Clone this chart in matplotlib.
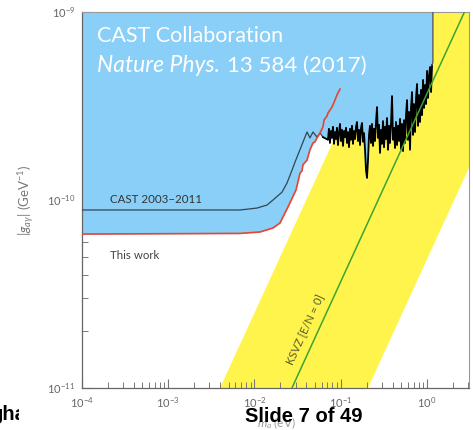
import matplotlib
matplotlib.use("Agg")
import matplotlib.pyplot as plt
from matplotlib.transforms import Bbox, TransformedBbox

plt.rcParams['font.family'] = ['Lato', 'DejaVu Sans']
plt.rcParams['mathtext.fontset'] = 'custom'
plt.rcParams['mathtext.rm'] = 'Lato'
plt.rcParams['mathtext.it'] = 'Lato:italic'

# ---------------- data (m_a in eV, g in GeV^-1) ----------------
# CAST 2003-2011 (smooth part)
cast_m = [1.0e-4, 0.00679, 0.01069, 0.01396, 0.01638, 0.02083, 0.02380, 0.02720,
          0.02948, 0.04064, 0.04399, 0.04765, 0.05305, 0.05748, 0.06223]
cast_g = [8.85e-11, 8.85e-11, 9.06e-11, 9.4e-11, 1.0e-10, 1.10e-10, 1.23e-10, 1.44e-10,
          1.59e-10, 2.30e-10, 2.14e-10, 2.30e-10, 2.16e-10, 2.27e-10, 2.16e-10]

# CAST 2003-2011 noisy high-mass part (units of 1e-10 GeV^-1)
noise_m = [0.0711, 0.0730, 0.0750, 0.0770, 0.0791, 0.0813, 0.0835, 0.0857, 0.0881, 0.0904,
           0.0929, 0.0954, 0.0980, 0.1007, 0.1034, 0.1062, 0.1091, 0.1120, 0.1151, 0.1182,
           0.1214, 0.1247, 0.1280, 0.1315, 0.1351, 0.1387, 0.1425, 0.1463, 0.1503, 0.1544,
           0.1585, 0.1628, 0.1673, 0.1718, 0.1764, 0.1812, 0.1861, 0.1912, 0.1963, 0.2016,
           0.2071, 0.2127, 0.2185, 0.2244, 0.2304, 0.2367, 0.2431, 0.2497, 0.2564, 0.2634,
           0.2705, 0.2778, 0.2853, 0.2930, 0.3010, 0.3091, 0.3175, 0.3261, 0.3349, 0.3440,
           0.3533, 0.3628, 0.3727, 0.3828, 0.3931, 0.4038, 0.4147, 0.4259, 0.4375, 0.4493,
           0.4615, 0.4740, 0.4868, 0.5000, 0.5135, 0.5274, 0.5417, 0.5564, 0.5714, 0.5869,
           0.6028, 0.6191, 0.6359, 0.6531, 0.6708, 0.6890, 0.7076, 0.7268, 0.7465, 0.7667,
           0.7875, 0.8088, 0.8307, 0.8532, 0.8763, 0.9001, 0.9245, 0.9495, 0.9752, 1.0016,
           1.0288, 1.0566, 1.0853, 1.1147, 1.1449, 1.17, 1.17]
noise_g10 = [2.09, 2.39, 2.01, 2.33, 2.14, 2.45, 1.99, 2.30, 2.11, 2.42,
             1.96, 2.27, 2.54, 2.06, 2.36, 1.94, 2.33, 2.16, 2.42, 2.01,
             2.30, 1.91, 2.39, 2.09, 2.48, 1.99, 2.33, 2.11, 2.45, 2.60,
             2.06, 2.36, 1.96, 2.42, 2.57, 2.04, 2.27, 1.85, 1.44, 1.31,
             1.63, 2.22, 2.48, 2.01, 2.54, 1.94, 2.39, 2.06, 2.60, 3.12,
             2.14, 2.51, 1.78, 2.36, 1.99, 2.63, 1.91, 2.45, 2.11, 2.73,
             1.85, 2.48, 2.01, 2.54, 3.57, 2.09, 2.42, 1.89, 2.60, 1.96,
             2.48, 2.06, 2.70, 1.87, 2.54, 1.82, 2.66, 2.01, 2.83, 3.40,
             2.09, 2.94, 1.85, 3.09, 3.75, 2.22, 3.24, 2.30, 3.49, 4.14,
             2.48, 3.62, 2.60, 3.85, 2.83, 4.35, 3.09, 4.09, 3.24, 4.86,
             3.49, 4.57, 5.10, 3.75, 5.22, 5.40, 10.0]

# CAST "This work" (2013-2015)
this_m = [1.0e-4, 0.00679, 0.01159, 0.01639, 0.01976, 0.02445, 0.03027, 0.03193, 0.03369,
          0.03555, 0.03650, 0.04064, 0.04172, 0.04399, 0.04765, 0.05028, 0.05305, 0.05748,
          0.06223, 0.06397, 0.06929, 0.07112, 0.07915, 0.08576, 0.09048, 0.09802]
this_g = [6.59e-11, 6.64e-11, 6.76e-11, 7.10e-11, 7.55e-11, 9.18e-11, 1.13e-10, 1.25e-10, 1.39e-10,
          1.43e-10, 1.54e-10, 1.63e-10, 1.70e-10, 1.85e-10, 2.01e-10, 2.04e-10, 2.14e-10, 2.27e-10,
          2.45e-10, 2.66e-10, 2.80e-10, 2.90e-10, 3.12e-10, 3.40e-10, 3.62e-10, 3.89e-10]

# QCD axion band and KSVZ model line
band_m = [1.0e-3, 10.0]
band_lo = [4.83e-14, 4.83e-10]
band_hi = [2.51e-12, 2.51e-8]
ksvz_g = [3.68e-13, 3.68e-9]

xlim = (1e-4, 3.07)
ylim = (1e-11, 1e-9)

# ---------------- figure ----------------
W, H = 473, 430
fig = plt.figure(figsize=(W / 100, H / 100), dpi=100)
ax = fig.add_axes([82 / W, 1 - 388 / H, (469 - 82) / W, (388 - 12) / H])
ax.set_xscale('log')
ax.set_yscale('log')
ax.set_xlim(*xlim)
ax.set_ylim(*ylim)

BLUE = '#89CFF8'
YELLOW = '#FFF44C'

ax.fill_between(band_m, band_lo, band_hi, color=YELLOW, lw=0, zorder=1)

noise_g = [v * 1e-10 for v in noise_g10]
cross = 0.0575
env_m = [m for m in this_m if m <= cross] + [m for m in cast_m if m > cross] + noise_m
env_g = ([g for m, g in zip(this_m, this_g) if m <= cross]
         + [g for m, g in zip(cast_m, cast_g) if m > cross] + noise_g)
ax.fill_between(env_m, env_g, ylim[1], color=BLUE, lw=0, zorder=2)

ax.plot(cast_m, cast_g, color='#34454f', lw=0.9, zorder=3)
ax.plot([cast_m[-1]] + noise_m[:-2], [cast_g[-1]] + noise_g[:-2], color='black', lw=1.3, zorder=3)
ax.plot(noise_m[-3:], noise_g[-3:], color='#555555', lw=0.9, zorder=3)
ax.plot(this_m, this_g, color='#E8452F', lw=1.2, zorder=3)
ax.plot(band_m, ksvz_g, color='#3DA334', lw=1.1, zorder=4)

# spines and ticks
for s in ['left', 'bottom']:
    ax.spines[s].set_color('#666666')
    ax.spines[s].set_linewidth(0.9)
for s in ['top', 'right']:
    ax.spines[s].set_color('#999999')
    ax.spines[s].set_linewidth(0.8)
ax.tick_params(which='both', direction='in', top=False, right=False,
               color='#777777', labelcolor='#666666', labelsize=8)
ax.tick_params(which='major', length=6.5, width=0.8, pad=5)
ax.tick_params(which='minor', length=4, width=0.7)

# in-plot labels
ax.text(2.11e-4, 1.01e-10, 'CAST 2003\u20132011', color='#333333', fontsize=8.3,
        va='center', ha='left', zorder=5)
ax.text(2.14e-4, 5.09e-11, 'This work', color='#444444', fontsize=8.3,
        va='center', ha='left', zorder=5)
ax.text(0.0385, 2.06e-11, 'KSVZ [E/N = 0]', color='#5a5a2a', fontsize=8,
        rotation=65.4, rotation_mode='anchor', ha='center', va='center', zorder=5)

# axis labels
fig.text(27 / W, 1 - 200 / H, r'$|g_{a\gamma}|$ (GeV$^{-1}$)', rotation=90,
         ha='center', va='center', color='#777777', fontsize=9.5)
fig.text(276 / W, 1 - 423 / H, r'$m_a$ (eV)', ha='center', va='center',
         color='#999999', fontsize=8.5)

# overlay title text
fig.text(97 / W, 1 - 36 / H, 'CAST Collaboration', color='white', fontsize=15.5,
         va='center', ha='left', zorder=10)
t1 = fig.text(97 / W, 1 - 66 / H, 'Nature Phys.', color='white', fontsize=16.5,
              style='italic', va='center', ha='left', zorder=10)
fig.canvas.draw()
bb = t1.get_window_extent(fig.canvas.get_renderer())
fig.text(bb.x1 / W + 7 / W, 1 - 66 / H, '13 584 (2017)', color='white', fontsize=16,
         va='center', ha='left', zorder=10)

# slide footer
fig.text(245 / W, 1 - 417 / H, 'Slide 7 of 49', fontsize=14.5, weight='bold',
         family='Liberation Sans', color='black', va='center', ha='left', zorder=10)
tg = fig.text(-10 / W, 1 - 415 / H, 'gha', fontsize=14.5, weight='bold',
              family='Liberation Sans', color='black', va='center', ha='left', zorder=10)
tg.set_clip_box(TransformedBbox(Bbox([[0, 0], [19 / W, 1]]), fig.transFigure))
tg.set_clip_on(True)

fig.savefig('out.png', dpi=100)
